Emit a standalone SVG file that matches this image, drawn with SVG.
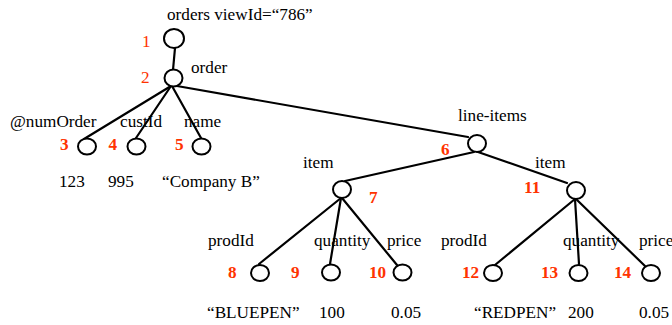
<svg xmlns="http://www.w3.org/2000/svg" width="672" height="325" viewBox="0 0 672 325">
  <style>
    .node { fill: #ffffff; stroke: #000000; stroke-width: 2; }
    .edge { stroke: #000000; stroke-width: 2.2; fill: none; stroke-linecap: round; }
    .lbl { font-family: "Liberation Serif", "Times New Roman", serif; font-size: 17.2px; fill: #000000; }
    .num { font-family: "Liberation Serif", "Times New Roman", serif; font-size: 17.2px; fill: #ff3300; font-weight: bold; }
    .num-plain { font-weight: normal; }
  </style>
  <rect x="0" y="0" width="672" height="325" fill="#ffffff"/>

  <!-- tree edges -->
  <g id="connectors">
    <line class="edge" x1="175" y1="48" x2="173" y2="70"/>
    <line class="edge" x1="171" y1="86" x2="84" y2="139"/>
    <line class="edge" x1="171" y1="86" x2="136" y2="138"/>
    <line class="edge" x1="172" y1="86" x2="201" y2="138"/>
    <line class="edge" x1="177" y1="86" x2="468" y2="137"/>
    <line class="edge" x1="474" y1="152" x2="345" y2="181"/>
    <line class="edge" x1="478" y1="152" x2="567" y2="183"/>
    <line class="edge" x1="341" y1="198" x2="259" y2="264"/>
    <line class="edge" x1="341" y1="198" x2="330" y2="264"/>
    <line class="edge" x1="342" y1="198" x2="397" y2="265"/>
    <line class="edge" x1="575" y1="199" x2="495" y2="265"/>
    <line class="edge" x1="575" y1="199" x2="579" y2="264"/>
    <line class="edge" x1="576" y1="199" x2="645" y2="266"/>
  </g>

  <g id="n1">
    <ellipse class="node" cx="174" cy="38.5" rx="10" ry="9.5"/>
    <text class="lbl" x="167" y="20">orders viewId=“786”</text>
    <text class="num num-plain" x="142" y="47">1</text>
  </g>
  <g id="n2">
    <ellipse class="node" cx="173.5" cy="78" rx="9" ry="8.5"/>
    <text class="lbl" x="191" y="73">order</text>
    <text class="num num-plain" x="141" y="83">2</text>
  </g>
  <g id="n3">
    <ellipse class="node" cx="87" cy="146.5" rx="9" ry="8"/>
    <text class="lbl" x="10" y="127">@numOrder</text>
    <text class="num" x="60" y="150">3</text>
    <text class="lbl" x="59" y="187">123</text>
  </g>
  <g id="n4">
    <ellipse class="node" cx="136.5" cy="146.5" rx="9" ry="8"/>
    <text class="lbl" x="120" y="127">custId</text>
    <text class="num" x="108.5" y="150">4</text>
    <text class="lbl" x="108" y="187">995</text>
  </g>
  <g id="n5">
    <ellipse class="node" cx="201.5" cy="146.5" rx="9" ry="8"/>
    <text class="lbl" x="184" y="127">name</text>
    <text class="num" x="175" y="150">5</text>
    <text class="lbl" x="162" y="187">“Company B”</text>
  </g>
  <g id="n6">
    <ellipse class="node" cx="477" cy="143.5" rx="9" ry="8.5"/>
    <text class="lbl" x="458" y="121">line-items</text>
    <text class="num" x="441" y="155">6</text>
  </g>
  <g id="n7">
    <ellipse class="node" cx="342" cy="189.5" rx="9" ry="8.5"/>
    <text class="lbl" x="303" y="168">item</text>
    <text class="num" x="369" y="203">7</text>
  </g>
  <g id="n8">
    <ellipse class="node" cx="260" cy="273" rx="9" ry="8"/>
    <text class="lbl" x="208" y="246">prodId</text>
    <text class="num" x="228" y="278">8</text>
    <text class="lbl" x="207" y="318">“BLUEPEN”</text>
  </g>
  <g id="n9">
    <ellipse class="node" cx="331" cy="272.5" rx="9" ry="8"/>
    <text class="lbl" x="314" y="246">quantity</text>
    <text class="num" x="291" y="278">9</text>
    <text class="lbl" x="319" y="318">100</text>
  </g>
  <g id="n10">
    <ellipse class="node" cx="402.5" cy="272.5" rx="9" ry="8"/>
    <text class="lbl" x="387" y="246">price</text>
    <text class="num" x="369" y="278">10</text>
    <text class="lbl" x="391" y="318">0.05</text>
  </g>
  <g id="n11">
    <ellipse class="node" cx="576" cy="190.5" rx="9" ry="8.5"/>
    <text class="lbl" x="535" y="168">item</text>
    <text class="num" x="524" y="193">11</text>
  </g>
  <g id="n12">
    <ellipse class="node" cx="493" cy="273" rx="9" ry="8"/>
    <text class="lbl" x="441" y="246">prodId</text>
    <text class="num" x="462" y="278">12</text>
    <text class="lbl" x="474" y="318">“REDPEN”</text>
  </g>
  <g id="n13">
    <ellipse class="node" cx="578.5" cy="273" rx="9" ry="8"/>
    <text class="lbl" x="563" y="246">quantity</text>
    <text class="num" x="541" y="278">13</text>
    <text class="lbl" x="568" y="318">200</text>
  </g>
  <g id="n14">
    <ellipse class="node" cx="651" cy="273" rx="9" ry="8"/>
    <text class="lbl" x="639" y="246">price</text>
    <text class="num" x="614" y="278">14</text>
    <text class="lbl" x="639" y="318">0.05</text>
  </g>
</svg>
